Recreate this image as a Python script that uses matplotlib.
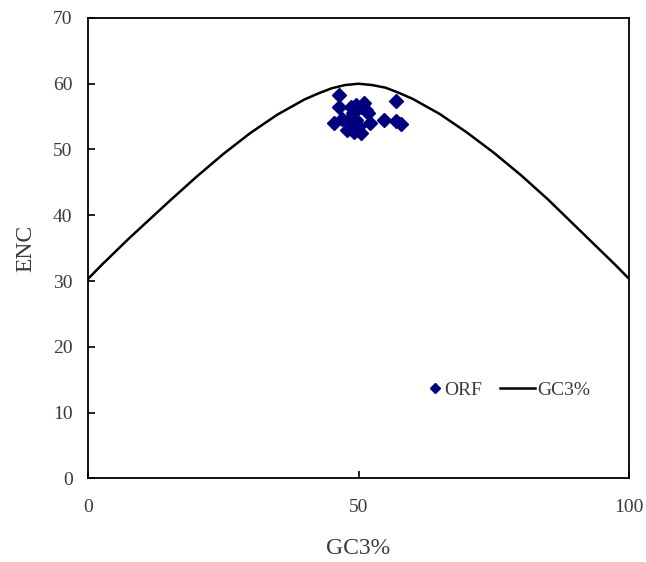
import matplotlib
matplotlib.use("Agg")
import matplotlib.pyplot as plt

# Expected ENC curve
curve_gc3 = [0, 2.5, 5, 7.5, 10, 15, 20, 25, 30, 35, 40, 42.5, 45, 47.5, 50,
             52.5, 55, 57.5, 60, 65, 70, 75, 80, 85, 90, 92.5, 95, 97.5, 100]
curve_enc = [30.3, 32.4, 34.4, 36.4, 38.3, 42.1, 45.8, 49.3, 52.5, 55.3, 57.6, 58.5, 59.3, 59.8, 60.0,
             59.8, 59.4, 58.6, 57.7, 55.4, 52.6, 49.5, 46.1, 42.4, 38.4, 36.4, 34.4, 32.4, 30.3]

# ORF points
orf_gc3 = [46.4, 46.4, 45.5, 47.0, 48.6, 49.5, 50.4, 51.3, 48.9, 48.2, 49.5, 48.6,
           50.1, 50.4, 49.2, 47.9, 52.2, 56.9, 54.7, 56.9, 57.8, 51.8, 51.0]
orf_enc = [58.3, 56.5, 54.0, 54.7, 56.5, 56.8, 56.5, 56.0, 55.5, 54.5, 54.5, 53.5,
           53.5, 52.5, 52.7, 53.0, 54.0, 57.4, 54.5, 54.4, 53.9, 55.5, 57.0]

x_ticks = [0, 50, 100]
y_ticks = [0, 10, 20, 30, 40, 50, 60, 70]

plt.rcParams['font.family'] = ['Liberation Serif', 'DejaVu Serif']

fig = plt.figure(figsize=(6.46, 5.62), dpi=100)
ax = fig.add_axes([0.136, 0.149, 0.838, 0.819])

pts, = ax.plot(orf_gc3, orf_enc, linestyle='none', marker='D', markersize=7,
               color='#00007F', label='ORF')
ln, = ax.plot(curve_gc3, curve_enc, color='black', linewidth=1.8, label='GC3%')

ax.set_xlim(0, 100)
ax.set_ylim(0, 70)
ax.set_xticks(x_ticks)
ax.set_yticks(y_ticks)
ax.tick_params(axis='both', direction='in', length=5, width=1.2, labelsize=14,
               labelcolor='#3a3a3a')
ax.tick_params(axis='x', pad=15)
ax.tick_params(axis='y', pad=11)
for s in ax.spines.values():
    s.set_linewidth(1.3)
    s.set_color('black')

ax.set_xlabel('GC3%', fontsize=17, color='#3a3a3a', labelpad=16)
ax.set_ylabel('ENC', fontsize=17, color='#3a3a3a', labelpad=12)

leg1 = ax.legend([pts], ['ORF'], loc='center left', bbox_to_anchor=(0.63, 0.191),
                 frameon=False, fontsize=14, handlelength=0.6, handletextpad=0.2,
                 borderpad=0, borderaxespad=0, labelcolor='#3a3a3a', numpoints=1,
                 markerscale=0.75)
ax.add_artist(leg1)
ax.legend([ln], ['GC3%'], loc='center left', bbox_to_anchor=(0.762, 0.191),
          frameon=False, fontsize=14, handlelength=1.8, handletextpad=0.1,
          borderpad=0, borderaxespad=0, labelcolor='#3a3a3a')

fig.savefig('out.png', dpi=100)
